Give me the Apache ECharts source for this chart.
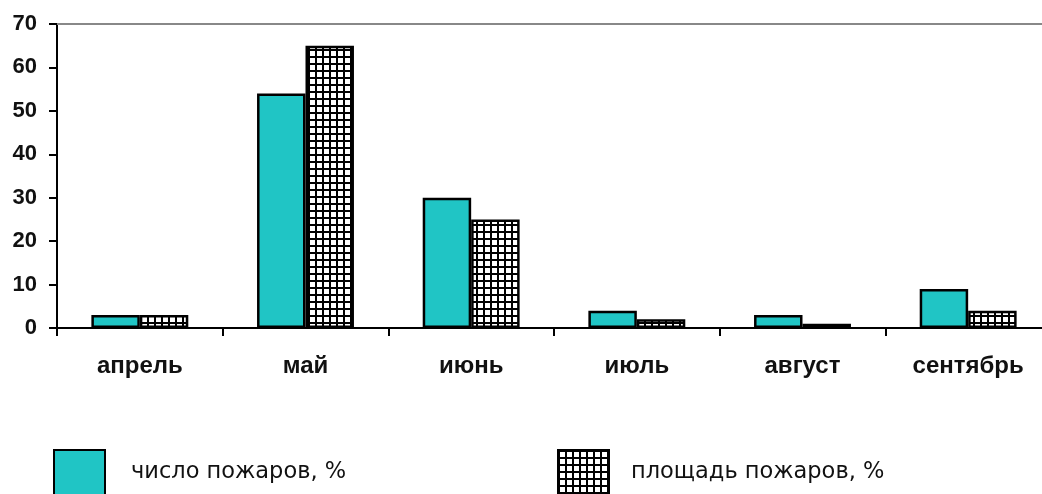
<!DOCTYPE html>
<html>
<head>
<meta charset="utf-8">
<script src="https://cdn.jsdelivr.net/npm/echarts@6/dist/echarts.min.js"></script>
<style>
  html, body { margin: 0; padding: 0; background: #fff; }
  #chart1 { width: 1042px; height: 494px; }
</style>
</head>
<body>
<div id="chart1"></div>
<script>
// месяцы и значения
var months = ['апрель', 'май', 'июнь', 'июль', 'август', 'сентябрь'];
var fireCount = [3, 54, 30, 4, 3, 9];
var fireArea = [3, 65, 25, 2, 1, 4];
var seriesNames = ['число пожаров, %', 'площадь пожаров, %'];
var yTicks = { min: 0, max: 70, interval: 10 };

// клетчатая заливка
var cv = document.createElement('canvas');
cv.width = 7; cv.height = 7;
var ctx = cv.getContext('2d');
ctx.fillStyle = '#000';
ctx.fillRect(0, 0, 7, 7);
ctx.fillStyle = '#fff';
ctx.fillRect(2, 2, 5, 5);
var hatch = { image: cv, repeat: 'repeat' };

var chart1 = echarts.init(document.getElementById('chart1'));

var labelFont = { fontFamily: 'Liberation Sans', fontWeight: 'bold', color: '#111' };

var option1 = {
    animation: false,
    grid: { left: 57, top: 24, width: 994, height: 304, outerBoundsMode: 'none', containLabel: false },
    legend: [
        {
            left: 53, top: 449, padding: 0,
            itemWidth: 51, itemHeight: 45,
            icon: 'rect',
            textStyle: { fontFamily: 'DejaVu Sans', fontSize: 22.5, color: '#111', padding: [0, 0, 4, 21] },
            data: [seriesNames[0]]
        },
        {
            left: 557, top: 449, padding: 0,
            itemWidth: 51, itemHeight: 45,
            icon: 'rect',
            textStyle: { fontFamily: 'DejaVu Sans', fontSize: 22.5, color: '#111', padding: [0, 0, 4, 17] },
            data: [seriesNames[1]]
        }
    ],
    xAxis: [
        {
            type: 'category',
            data: months,
            axisLine: { lineStyle: { color: '#000', width: 2 } },
            axisTick: { show: true, length: 8, interval: 0, lineStyle: { color: '#000', width: 2 } },
            axisLabel: Object.assign({ margin: 26, interval: 0, fontSize: 24 }, labelFont)
        },
        {
            type: 'category',
            position: 'top',
            data: months,
            axisLine: { show: true, lineStyle: { color: '#888', width: 2 } },
            axisTick: { show: false },
            axisLabel: { show: false }
        }
    ],
    yAxis: {
        type: 'value',
        min: yTicks.min, max: yTicks.max, interval: yTicks.interval,
        axisLine: { show: true, lineStyle: { color: '#000', width: 2 } },
        axisTick: { show: true, length: 8, lineStyle: { color: '#000', width: 2 } },
        axisLabel: Object.assign({ margin: 20, fontSize: 22 }, labelFont),
        splitLine: { show: false }
    },
    series: [
        {
            name: seriesNames[0],
            type: 'bar',
            data: fireCount,
            barGap: '0%',
            barCategoryGap: '41.5%',
            itemStyle: { color: '#20c5c5', borderColor: '#000', borderWidth: 2.5 }
        },
        {
            name: seriesNames[1],
            type: 'bar',
            data: fireArea,
            itemStyle: { color: hatch, borderColor: '#000', borderWidth: 2.5 }
        }
    ]
};

chart1.setOption(option1);

window.onresize = function(){
  chart1.resize();
};
</script>
</body>
</html>
